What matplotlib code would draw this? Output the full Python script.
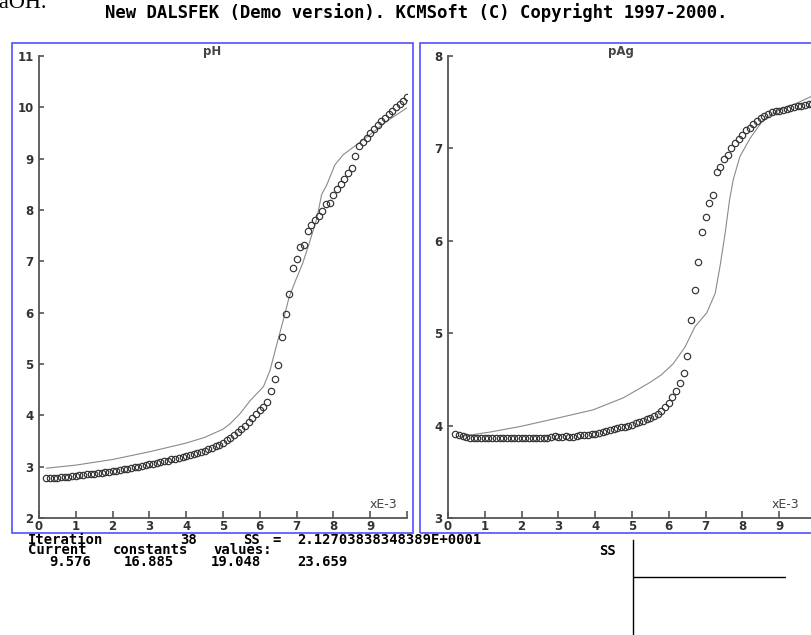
import matplotlib
matplotlib.use('Agg')
import matplotlib.pyplot as plt
from matplotlib.patches import Rectangle

# titrant volume (xE-3) for the measured points
vol = [0.2, 0.3, 0.4, 0.5, 0.6, 0.7, 0.8, 0.9, 1.0, 1.1,
       1.2, 1.3, 1.4, 1.5, 1.6, 1.7, 1.8, 1.9, 2.0, 2.1,
       2.2, 2.3, 2.4, 2.5, 2.6, 2.7, 2.8, 2.9, 3.0, 3.1,
       3.2, 3.3, 3.4, 3.5, 3.6, 3.7, 3.8, 3.9, 4.0, 4.1,
       4.2, 4.3, 4.4, 4.5, 4.6, 4.7, 4.8, 4.9, 5.0, 5.1,
       5.2, 5.3, 5.4, 5.5, 5.6, 5.7, 5.8, 5.9, 6.0, 6.1,
       6.2, 6.3, 6.4, 6.5, 6.6, 6.7, 6.8, 6.9, 7.0, 7.1,
       7.2, 7.3, 7.4, 7.5, 7.6, 7.7, 7.8, 7.9, 8.0, 8.1,
       8.2, 8.3, 8.4, 8.5, 8.6, 8.7, 8.8, 8.9, 9.0, 9.1,
       9.2, 9.3, 9.4, 9.5, 9.6, 9.7, 9.8, 9.9, 10.0]

ph_meas = [2.77, 2.77, 2.78, 2.78, 2.79, 2.79, 2.80, 2.81, 2.82, 2.83,
           2.84, 2.85, 2.86, 2.86, 2.87, 2.88, 2.89, 2.90, 2.91, 2.92,
           2.93, 2.95, 2.96, 2.97, 2.99, 3.00, 3.02, 3.03, 3.05, 3.06,
           3.08, 3.09, 3.11, 3.12, 3.14, 3.15, 3.17, 3.19, 3.21, 3.23,
           3.25, 3.27, 3.29, 3.31, 3.34, 3.37, 3.40, 3.43, 3.47, 3.51,
           3.56, 3.62, 3.68, 3.74, 3.80, 3.87, 3.94, 4.02, 4.10, 4.17,
           4.26, 4.48, 4.70, 4.99, 5.52, 5.97, 6.36, 6.87, 7.05, 7.27,
           7.32, 7.60, 7.70, 7.80, 7.88, 7.98, 8.12, 8.14, 8.30, 8.40,
           8.50, 8.60, 8.72, 8.82, 9.05, 9.24, 9.32, 9.40, 9.50, 9.57,
           9.65, 9.73, 9.80, 9.87, 9.93, 10.00, 10.07, 10.13, 10.20]

pag_meas = [3.91, 3.90, 3.89, 3.88, 3.87, 3.87, 3.87, 3.87, 3.87, 3.87,
            3.87, 3.87, 3.87, 3.87, 3.87, 3.87, 3.87, 3.87, 3.87, 3.87,
            3.87, 3.87, 3.87, 3.87, 3.87, 3.87, 3.88, 3.89, 3.88, 3.88,
            3.89, 3.88, 3.88, 3.89, 3.90, 3.90, 3.90, 3.91, 3.91, 3.92,
            3.93, 3.94, 3.95, 3.96, 3.97, 3.98, 3.99, 4.00, 4.01, 4.03,
            4.04, 4.05, 4.07, 4.08, 4.10, 4.13, 4.16, 4.20, 4.25, 4.31,
            4.37, 4.46, 4.57, 4.75, 5.14, 5.47, 5.77, 6.10, 6.26, 6.41,
            6.50, 6.75, 6.80, 6.88, 6.93, 7.00, 7.06, 7.10, 7.15, 7.20,
            7.22, 7.26, 7.30, 7.33, 7.35, 7.37, 7.39, 7.40, 7.41, 7.42,
            7.43, 7.44, 7.45, 7.46, 7.46, 7.47, 7.48, 7.48, 7.49]

# fitted model curves
fit_ph_x = [0.2, 1.0, 2.0, 3.0, 4.0, 4.5, 5.0, 5.2, 5.46, 5.73, 6.1, 6.28, 6.46, 6.64,
            6.8, 6.98, 7.16, 7.32, 7.45, 7.55, 7.68, 7.82, 8.04, 8.27, 8.63, 9.0, 9.45, 10.0]
fit_ph_y = [2.97, 3.03, 3.14, 3.29, 3.46, 3.57, 3.73, 3.84, 4.03, 4.28, 4.56, 4.88, 5.38, 5.86,
            6.31, 6.64, 6.95, 7.30, 7.60, 7.84, 8.30, 8.49, 8.88, 9.08, 9.27, 9.47, 9.73, 9.99]

fit_pag_x = [0.3, 1.14, 1.96, 2.96, 3.94, 4.76, 5.2, 5.5, 5.8, 6.12, 6.44, 6.71, 7.03,
             7.26, 7.39, 7.53, 7.65, 7.75, 7.93, 8.21, 8.57, 9.02, 9.48, 9.86, 10.0]
fit_pag_y = [3.88, 3.93, 3.99, 4.08, 4.17, 4.30, 4.40, 4.47, 4.55, 4.67, 4.85, 5.07, 5.22,
             5.43, 5.72, 6.08, 6.44, 6.66, 6.91, 7.11, 7.31, 7.42, 7.49, 7.56, 7.58]

# SS history box
ss_iter = [0, 38]
ss_vals = [21.27, 21.27]

xtick_vals = [0, 1, 2, 3, 4, 5, 6, 7, 8, 9, 10]
xtick_labels = ['0', '1', '2', '3', '4', '5', '6', '7', '8', '9', '']

W, H = 811, 635


def fx(x):
    return x / W


def fy(y):
    return 1 - y / H


fig = plt.figure(figsize=(W / 100, H / 100), dpi=100)
fig.patch.set_facecolor('white')

axc = '#555555'
mono = 'DejaVu Sans Mono'


def panel(left, ymin, ymax, yt, title, tx):
    ax = fig.add_axes([fx(left), fy(518), 368 / W, 462 / H])
    ax.set_xlim(0, 10)
    ax.set_ylim(ymin, ymax)
    for s in ['top', 'right']:
        ax.spines[s].set_visible(False)
    for s in ['left', 'bottom']:
        ax.spines[s].set_color(axc)
        ax.spines[s].set_linewidth(1.3)
    ax.set_xticks(xtick_vals)
    ax.set_xticklabels(xtick_labels)
    ax.set_yticks(yt)
    ax.tick_params(axis='y', direction='in', length=3.6, width=1.2, color=axc, pad=4,
                   labelsize=8.5, labelcolor='#333333')
    ax.tick_params(axis='x', direction='in', length=5, width=1.2, color=axc, pad=1.5,
                   labelsize=8.5, labelcolor='#333333')
    for lab in ax.get_xticklabels() + ax.get_yticklabels():
        lab.set_fontweight('bold')
    fig.text(fx(tx), fy(51), title, ha='center', va='center', fontsize=8.5,
             fontweight='bold', color='#444444')
    return ax


ax1 = panel(39, 2, 11, [2, 3, 4, 5, 6, 7, 8, 9, 10, 11], 'pH', 212)
ax1.plot(fit_ph_x, fit_ph_y, color='#8a8a8a', lw=0.8)
ax1.plot(vol, ph_meas, 'o', mfc='none', mec='#333333', ms=4.6, mew=0.85)

ax2 = panel(448, 3, 8, [3, 4, 5, 6, 7, 8], 'pAg', 621)
ax2.plot(fit_pag_x, fit_pag_y, color='#8a8a8a', lw=0.8)
ax2.plot(vol, pag_meas, 'o', mfc='none', mec='#333333', ms=4.6, mew=0.85)

fig.text(fx(383), fy(504), 'xE-3', ha='center', va='center', fontsize=9, color='#444444')
fig.text(fx(772), fy(504), 'xE-3', ha='left', va='center', fontsize=9, color='#444444')

# blue window frames
fig.patches.append(Rectangle((fx(12), fy(533)), 401 / W, 490 / H, transform=fig.transFigure,
                             fill=False, ec='#5050ff', lw=1.2))
fig.patches.append(Rectangle((fx(420), fy(533)), 400 / W, 490 / H, transform=fig.transFigure,
                             fill=False, ec='#5050ff', lw=1.2))

# header texts
fig.text(fx(47), fy(8), 'NaOH.', ha='right', va='baseline', fontsize=16,
         family='Liberation Serif', color='black')
fig.text(fx(416), fy(13), 'New DALSFEK (Demo version). KCMSoft (C) Copyright 1997-2000.',
         ha='center', va='center', fontsize=12.4, family=mono, fontweight='bold')

# status lines under the plots (baseline positions)
status = [
    (543.5, [(28, 'Iteration'), (180, '38'), (243, 'SS'), (272, '='),
             (297, '2.12703838348389E+0001')]),
    (554.5, [(28, 'Current'), (113, 'constants'), (213, 'values:')]),
    (565.5, [(49, '9.576'), (124, '16.885'), (211, '19.048'), (297, '23.659')]),
]
for yy, parts in status:
    for xx, s in parts:
        fig.text(fx(xx), fy(yy), s, ha='left', va='baseline', fontsize=10,
                 family=mono, fontweight='bold')

fig.text(fx(599), fy(555), 'SS', ha='left', va='baseline', fontsize=10,
         family=mono, fontweight='bold')

ax3 = fig.add_axes([fx(633), 0, (786 - 633) / W, (635 - 540) / H])
ax3.patch.set_visible(False)
for s in ['top', 'right', 'bottom']:
    ax3.spines[s].set_visible(False)
ax3.spines['left'].set_color('black')
ax3.spines['left'].set_linewidth(1.0)
ax3.set_xticks([])
ax3.set_yticks([])
ax3.set_xlim(0, 38)
ax3.set_ylim(0, 21.27 / 0.61)
ax3.plot(ss_iter, ss_vals, color='black', lw=1.0)

fig.savefig('out.png', dpi=100)
